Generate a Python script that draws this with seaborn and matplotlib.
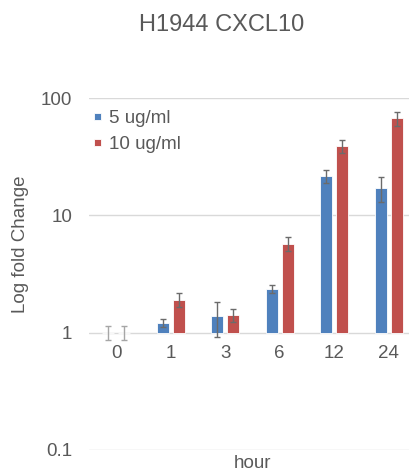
import pandas as pd
import matplotlib
matplotlib.use("Agg")
import matplotlib.pyplot as plt
from matplotlib.ticker import NullLocator
import seaborn as sns

# ====== DATA ======
HOURS = ["0", "1", "3", "6", "12", "24"]
DOSES = ["5 ug/ml", "10 ug/ml"]
FOLD_5 = [1.0, 1.22, 1.38, 2.35, 21.6, 17.1]
ERR_5 = [0.13, 0.10, 0.46, 0.18, 2.7, 4.1]
FOLD_10 = [1.0, 1.91, 1.41, 5.75, 39.0, 67.0]
ERR_10 = [0.13, 0.25, 0.18, 0.8, 5.1, 9.2]
Y_TICKS = [0.1, 1, 10, 100]
Y_TICK_LABELS = ["0.1", "1", "10", "100"]
# ==================

COLORS = ["#4f81bd", "#c0504d"]
TEXT = "#595959"
GRID = "#d9d9d9"

df = pd.DataFrame({
    "hour": HOURS * 2,
    "dose": [DOSES[0]] * len(HOURS) + [DOSES[1]] * len(HOURS),
    "fold": FOLD_5 + FOLD_10,
})

sns.set_style("white")
plt.rcParams["font.family"] = ["Liberation Sans", "DejaVu Sans"]

fig = plt.figure(figsize=(4.09, 4.71), dpi=100)
ax = fig.add_axes([0.2176, 0.0446, 0.7995, 0.7473])
ax.set_yscale("log")

sns.barplot(data=df, x="hour", y="fold", hue="dose", order=HOURS,
            hue_order=DOSES, palette=COLORS, saturation=1, width=0.58,
            gap=0.25, errorbar=None, edgecolor="white", linewidth=0.6, ax=ax)

# bars start at 1 (fold change baseline), then add error bars
for cont, errs in zip(ax.containers, [ERR_5, ERR_10]):
    for i, (bar, e) in enumerate(zip(cont, errs)):
        h = bar.get_height()
        bar.set_y(1)
        bar.set_height(h - 1)
        xc = bar.get_x() + bar.get_width() / 2
        ecol = "#a6a6a6" if i == 0 else "#6b6b6b"
        ax.errorbar(xc, h, yerr=e, fmt="none", ecolor=ecol,
                    elinewidth=1, capsize=2.5, capthick=1, zorder=3)

ax.set_ylim(0.1, 100)
ax.set_xlim(-0.5, 5.5)
ax.set_yticks(Y_TICKS)
ax.set_yticklabels(Y_TICK_LABELS)
ax.yaxis.set_minor_locator(NullLocator())
ax.yaxis.grid(True, color=GRID, linewidth=1)
ax.xaxis.grid(False)
ax.set_axisbelow(True)

for s in ax.spines.values():
    s.set_visible(False)
ax.spines["bottom"].set_position(("data", 1))

ax.tick_params(axis="x", length=0, labelsize=13.5, labelcolor=TEXT, pad=9)
ax.tick_params(axis="y", length=0, labelsize=13.5, labelcolor=TEXT, pad=12)

ax.set_xlabel("hour", fontsize=13.5, color=TEXT)
ax.xaxis.label.set_va("center")
ax.xaxis.set_label_coords(0.5, -0.037)
ax.set_ylabel("Log fold Change", fontsize=13.5, color=TEXT)
ax.yaxis.label.set_va("center")
ax.yaxis.set_label_coords(-0.211, 0.585)

sns.move_legend(ax, "upper left", bbox_to_anchor=(0.0138, 0.966),
                title=None, frameon=False, fontsize=13.5, borderpad=0,
                borderaxespad=0, handlelength=0.4, handleheight=0.21,
                handletextpad=0.43, labelspacing=0.5, labelcolor=TEXT)

fig.text(0.5416, 0.947, "H1944 CXCL10", ha="center", va="center",
         fontsize=17, color=TEXT)

fig.savefig("out.png", dpi=100)
